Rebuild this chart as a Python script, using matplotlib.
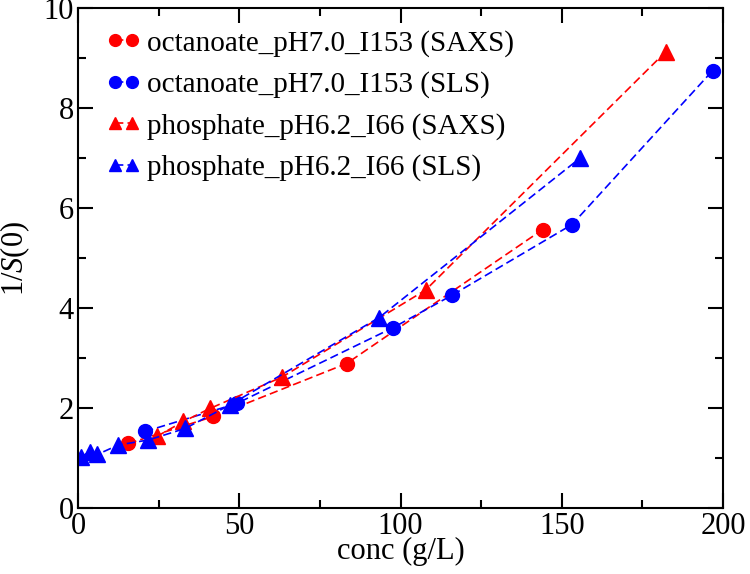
import matplotlib
matplotlib.use("Agg")
import matplotlib.pyplot as plt

plt.rcParams['font.family'] = ['Liberation Serif', 'DejaVu Serif']
plt.rcParams['mathtext.fontset'] = 'custom'
plt.rcParams['mathtext.rm'] = 'Liberation Serif'
plt.rcParams['mathtext.it'] = 'Liberation Serif:italic'

# octanoate_pH7.0_I153 (SAXS)
oct_saxs_x = [15.6, 42.0, 83.3, 144.1]
oct_saxs_y = [1.29, 1.83, 2.89, 5.57]
# octanoate_pH7.0_I153 (SLS)
oct_sls_x = [20.8, 49.2, 97.8, 116.1, 153.2, 196.8]
oct_sls_y = [1.53, 2.09, 3.61, 4.26, 5.67, 8.75]
# phosphate_pH6.2_I66 (SAXS)
pho_saxs_x = [24.4, 32.7, 40.9, 63.3, 107.8, 182.3]
pho_saxs_y = [1.43, 1.73, 1.99, 2.62, 4.36, 9.13]
# phosphate_pH6.2_I66 (SLS)
pho_sls_x = [0.8, 3.6, 6.0, 12.5, 21.8, 33.2, 47.1, 93.4, 155.7]
pho_sls_y = [1.02, 1.12, 1.07, 1.26, 1.36, 1.59, 2.06, 3.81, 7.0]

fig = plt.figure(figsize=(7.5, 5.74), dpi=100)
ax = fig.add_axes([0.104, 0.115, 0.86, 0.871])

dash = (0, (5, 2.5))
ax.plot(oct_saxs_x, oct_saxs_y, color='red', marker='o', ms=10, lw=1.2,
        linestyle=dash, label='octanoate_pH7.0_I153 (SAXS)')
ax.plot(oct_sls_x, oct_sls_y, color='blue', marker='o', ms=10, lw=1.2,
        linestyle=dash, label='octanoate_pH7.0_I153 (SLS)')
ax.plot(pho_saxs_x, pho_saxs_y, color='red', marker='^', ms=11, lw=1.2,
        linestyle=dash, label='phosphate_pH6.2_I66 (SAXS)')
ax.plot(pho_sls_x, pho_sls_y, color='blue', marker='^', ms=11, lw=1.2,
        linestyle=dash, label='phosphate_pH6.2_I66 (SLS)')

ax.set_xlim(0, 200)
ax.set_ylim(0, 10)
ax.set_xticks([0, 50, 100, 150, 200])
ax.set_xticks([25, 75, 125, 175], minor=True)
ax.set_yticks([0, 2, 4, 6, 8, 10])
ax.set_yticks([1, 3, 5, 7, 9], minor=True)
ax.tick_params(which='both', direction='in', top=True, right=True,
               labelsize=22, width=1.5)
ax.tick_params(which='major', length=11, pad=3)
ax.tick_params(which='minor', length=6)
for s in ax.spines.values():
    s.set_linewidth(1.5)

ax.set_xlabel('conc (g/L)', fontsize=22, labelpad=-3)
ax.set_ylabel('1/$S$(0)', fontsize=22, labelpad=8)

ax.legend(loc='upper left', bbox_to_anchor=(0.025, 0.98), frameon=False,
          fontsize=21, numpoints=2, markerscale=0.85, handlelength=1.2,
          handletextpad=0.2, labelspacing=0.5, borderaxespad=0.2,
          borderpad=0.2)

fig.savefig('out.png', dpi=100)
